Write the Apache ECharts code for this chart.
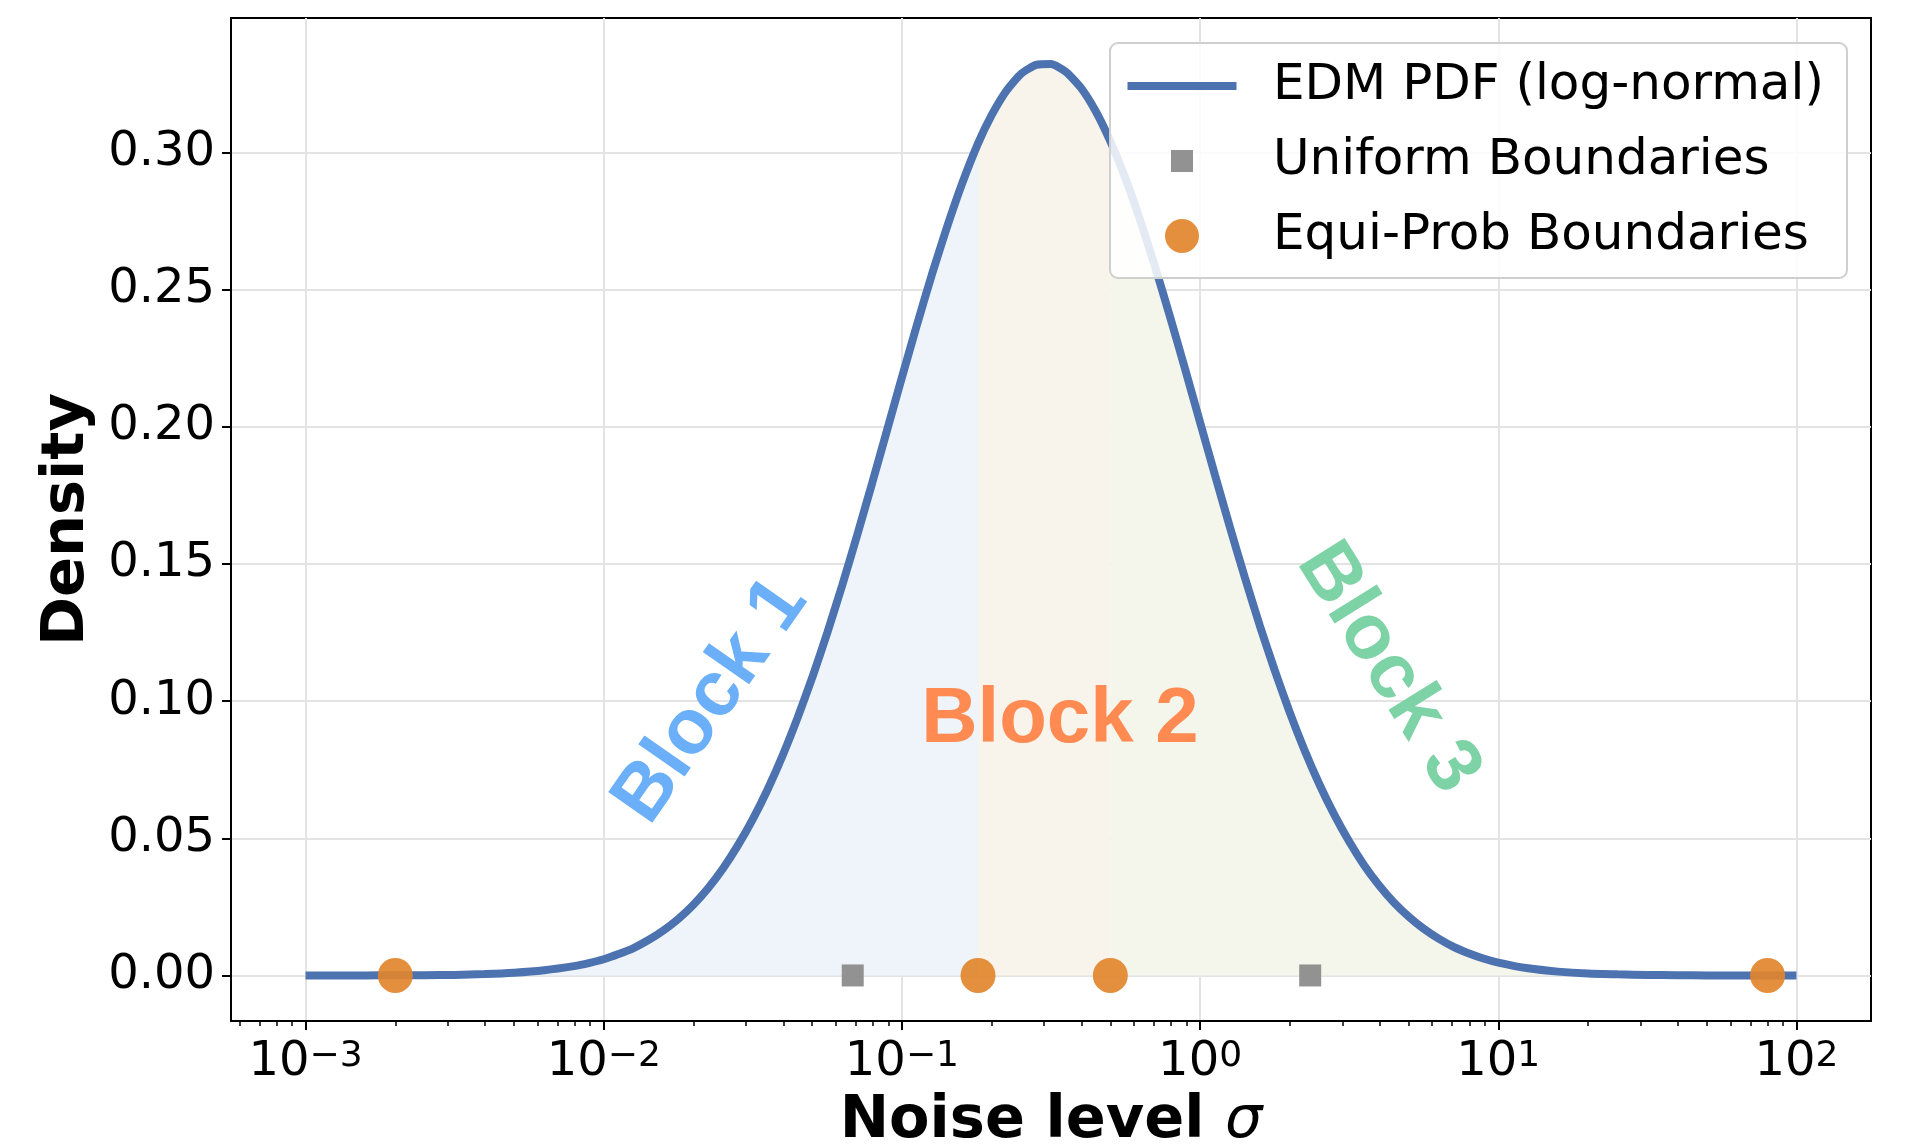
<!DOCTYPE html>
<html>
<head>
<meta charset="utf-8">
<title>EDM noise level density</title>
<script src="https://cdn.jsdelivr.net/npm/echarts@6.0.0/dist/echarts.min.js"></script>
<style>
  html, body { margin: 0; padding: 0; background: #fff; }
  #chart { width: 1905px; height: 1146px; }
</style>
</head>
<body>
<div id="chart"></div>
<script>
// curve samples: log10(sigma) and the density
var logSigma = [-3.0, -2.9, -2.8, -2.7, -2.6, -2.5, -2.4, -2.3, -2.2, -2.1,
  -2.05, -2.0, -1.95, -1.9, -1.85, -1.8, -1.75, -1.7, -1.65, -1.6, -1.55, -1.5,
  -1.45, -1.4, -1.35, -1.3, -1.25, -1.2, -1.15, -1.1, -1.05, -1.0, -0.95, -0.9,
  -0.85, -0.8, -0.745, -0.7, -0.65, -0.6, -0.55, -0.5, -0.45, -0.4, -0.35, -0.3,
  -0.25, -0.2, -0.15, -0.1, -0.05, 0.0, 0.05, 0.1, 0.15, 0.2, 0.25, 0.3,
  0.35, 0.4, 0.45, 0.5, 0.55, 0.6, 0.65, 0.7, 0.75, 0.8, 0.85, 0.9, 0.95,
  1.0, 1.1, 1.2, 1.3, 1.4, 1.5, 1.6, 1.7, 1.8, 1.9, 2.0];
var density = [0.0000, 0.0000, 0.0000, 0.0001, 0.0001, 0.0002, 0.0005, 0.0010, 0.0019, 0.0034,
  0.0045, 0.0059, 0.0078, 0.0100, 0.0129, 0.0164, 0.0206, 0.0257, 0.0318, 0.0390, 0.0474, 0.0570,
  0.0679, 0.0802, 0.0939, 0.1088, 0.1250, 0.1423, 0.1605, 0.1794, 0.1987, 0.2180, 0.2370, 0.2553,
  0.2724, 0.2881, 0.3032, 0.3134, 0.3224, 0.3287, 0.3319, 0.3322, 0.3294, 0.3236, 0.3150, 0.3038,
  0.2904, 0.2750, 0.2580, 0.2398, 0.2209, 0.2016, 0.1824, 0.1634, 0.1451, 0.1276, 0.1113, 0.0961,
  0.0822, 0.0697, 0.0586, 0.0488, 0.0402, 0.0329, 0.0266, 0.0214, 0.0170, 0.0134, 0.0104, 0.0081, 0.0062,
  0.0047, 0.0026, 0.0014, 0.0007, 0.0004, 0.0002, 0.0001, 0.0000, 0.0000, 0.0000, 0.0000];

// boundary markers (sigma values), drawn at density 0
var uniformSigma = [0.0684, 2.34];
var equiProbSigma = [0.002, 0.18, 0.5, 80];

// block edges in log10(sigma)
var blockEdges = [-0.745, -0.3];
var blockNames = ['Block 1', 'Block 2', 'Block 3'];
var blockFill = ['#eef4f9', '#f9f4eb', '#f4f6ec'];
var blockText = ['#6aaff7', '#ff8a52', '#7dd3a5'];
// label anchor [log10 sigma, density] and rotation
var blockLabelPos = [[-1.64, 0.1], [-0.47, 0.093], [0.63, 0.112]];
var blockLabelRot = [55, 0, -58];

var xMajor = [-3, -2, -1, 0, 1, 2];
var yTicks = [0, 0.05, 0.10, 0.15, 0.20, 0.25, 0.30];

var xMinor = [];
for (var k = -4; k <= 2; k++) {
  for (var m = 2; m <= 9; m++) {
    var v = k + Math.log10(m);
    if (v > -3.25 && v < 2.25) xMinor.push(v);
  }
}

var curve = logSigma.map(function (x, i) { return [x, density[i]]; });
function blockData(lo, hi) {
  return curve.filter(function (p) { return p[0] >= lo - 1e-9 && p[0] <= hi + 1e-9; });
}
var edges = [-3.0].concat(blockEdges).concat([2.0]);

var FONT = 'DejaVu Sans';
var chart = echarts.init(document.getElementById('chart'));

var series = [];
for (var b = 0; b < 3; b++) {
  series.push({
    type: 'line',
    data: blockData(edges[b], edges[b + 1]),
    smooth: 0.2,
    showSymbol: false,
    symbol: 'none',
    lineStyle: { width: 0, opacity: 0 },
    areaStyle: { color: blockFill[b], opacity: 1 },
    silent: true,
    z: 1
  });
}
series.push({
  name: 'EDM PDF (log-normal)',
  type: 'line',
  data: curve,
  smooth: 0.2,
  symbol: 'none',
  lineStyle: { color: '#4c72b0', width: 8, cap: 'butt' },
  itemStyle: { color: '#4c72b0' },
  z: 3
});
series.push({
  name: 'Uniform Boundaries',
  type: 'scatter',
  symbol: 'rect',
  symbolSize: 22,
  data: uniformSigma.map(function (s) { return [Math.log10(s), 0]; }),
  itemStyle: { color: '#8c8c8c', opacity: 0.95 },
  z: 4
});
series.push({
  name: 'Equi-Prob Boundaries',
  type: 'scatter',
  symbol: 'circle',
  symbolSize: 35,
  data: equiProbSigma.map(function (s) { return [Math.log10(s), 0]; }),
  itemStyle: { color: '#e1852d', opacity: 0.92 },
  z: 4
});
series.push({
  type: 'scatter',
  symbolSize: 0,
  silent: true,
  itemStyle: { opacity: 1 },
  data: blockNames.map(function (n, i) {
    return {
      value: blockLabelPos[i],
      itemStyle: { opacity: 1 },
      label: {
        show: true, position: 'inside', formatter: n, rotate: blockLabelRot[i],
        color: blockText[i], opacity: 1, fontSize: 78, fontWeight: 'bold', fontFamily: 'Liberation Sans'
      }
    };
  }),
  z: 5
});

function supLabel(v) {
  var e = v < 0 ? '\u2212' + (-v) : String(v);
  return '{b|10}{s|' + e + '}';
}

// legend rows: icon centred at x=1182, text starting at x=1273
var legendRows = [
  { name: 'EDM PDF (log-normal)', icon: 'rect', w: 109, h: 8, top: 58 },
  { name: 'Uniform Boundaries', icon: 'rect', w: 22, h: 22, top: 133 },
  { name: 'Equi-Prob Boundaries', icon: 'circle', w: 34, h: 34, top: 208 }
];

var option = {
  animation: false,
  backgroundColor: '#fff',
  grid: {
    left: 231, right: 34, top: 18, bottom: 125, outerBoundsMode: 'none',
    show: true, borderColor: '#000', borderWidth: 2, backgroundColor: 'transparent'
  },
  xAxis: [{
    type: 'value', min: -3.25, max: 2.25,
    name: '{a|Noise level }{s|\u03c3}',
    nameLocation: 'middle', nameGap: 67,
    nameTextStyle: {
      rich: {
        a: { fontFamily: FONT, fontSize: 59, fontWeight: 'bold', color: '#000' },
        s: { fontFamily: FONT, fontSize: 59, fontStyle: 'italic', color: '#000' }
      }
    },
    axisLine: { show: true, onZero: false, lineStyle: { color: '#000', width: 2 } },
    axisTick: { show: true, customValues: xMajor, length: 9, lineStyle: { color: '#000', width: 2 } },
    axisLabel: {
      customValues: xMajor, margin: 18, formatter: supLabel,
      rich: {
        b: { fontFamily: FONT, fontSize: 48, color: '#000' },
        s: { fontFamily: FONT, fontSize: 36, color: '#000', verticalAlign: 'top' }
      }
    },
    splitLine: { show: true, lineStyle: { color: '#e3e3e3', width: 2 } }
  }, {
    type: 'value', min: -3.25, max: 2.25, position: 'bottom',
    axisLine: { show: false, onZero: false },
    axisTick: { show: true, customValues: xMinor, length: 5, lineStyle: { color: '#000', width: 1.5 } },
    axisLabel: { show: false },
    splitLine: { show: false }
  }],
  yAxis: {
    type: 'value', min: -0.0166, max: 0.349,
    name: 'Density', nameLocation: 'middle', nameGap: 130, nameRotate: 90,
    nameTextStyle: { fontFamily: FONT, fontSize: 59, fontWeight: 'bold', color: '#000' },
    axisLine: { show: true, onZero: false, lineStyle: { color: '#000', width: 2 } },
    axisTick: { show: true, customValues: yTicks, length: 9, lineStyle: { color: '#000', width: 2 } },
    axisLabel: {
      customValues: yTicks, margin: 16, fontFamily: FONT, fontSize: 48, color: '#000',
      formatter: function (v) { return v.toFixed(2); }
    },
    splitLine: { show: true, lineStyle: { color: '#e3e3e3', width: 2 } }
  },
  legend: legendRows.map(function (r, i) {
    return {
      data: [{ name: r.name, icon: r.icon }], orient: 'vertical',
      left: 1182 - r.w / 2, top: r.top, padding: 0,
      itemWidth: r.w, itemHeight: r.h, selectedMode: false, z: 20,
      itemStyle: i === 0 ? { color: '#4c72b0' } : {},
      textStyle: {
        fontFamily: FONT, fontSize: 50, color: '#000', lineHeight: 56,
        padding: [0, 0, 0, 1273 - (1182 + r.w / 2) - 5]
      }
    };
  }),
  graphic: [{
    type: 'rect', z: 10, silent: true,
    shape: { x: 1110, y: 43, width: 737, height: 235, r: 8 },
    style: { fill: 'rgba(255,255,255,0.85)', stroke: '#cfcfcf', lineWidth: 2 }
  }],
  series: series
};
chart.setOption(option);
</script>
</body>
</html>
